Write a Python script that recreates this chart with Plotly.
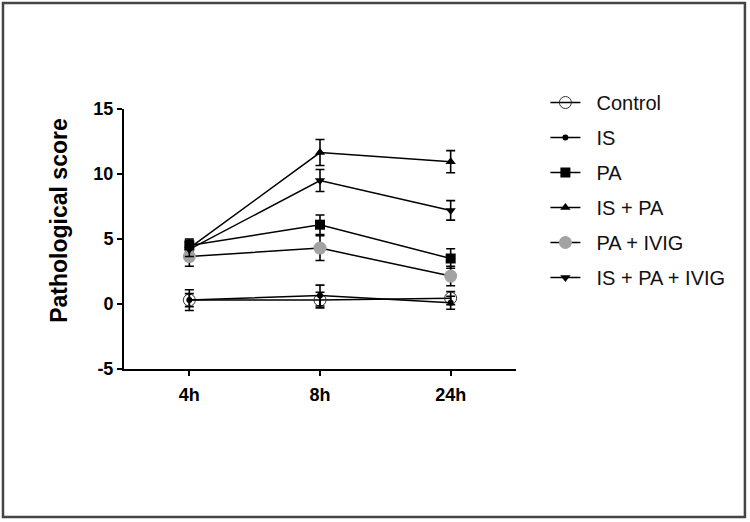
import plotly.graph_objects as go

timepoints = ["4h", "8h", "24h"]
groups = ["Control", "IS", "PA", "IS + PA", "PA + IVIG", "IS + PA + IVIG"]
control = [0.3, 0.3, 0.45]
control_err = [0.8, 0.6, 0.5]
is_vals = [0.3, 0.65, 0.1]
is_err = [0.5, 0.8, 0.5]
pa = [4.5, 6.1, 3.5]
pa_err = [0.5, 0.75, 0.75]
is_pa = [4.3, 11.65, 10.95]
is_pa_err = [0.6, 1.0, 0.85]
pa_ivig = [3.65, 4.3, 2.15]
pa_ivig_err = [0.75, 0.95, 0.75]
is_pa_ivig = [4.2, 9.5, 7.2]
is_pa_ivig_err = [0.55, 0.85, 0.75]
y_ticks = [-5, 0, 5, 10, 15]
y_tick_labels = ["-5", "0", "5", "10", "15"]

values = [control, is_vals, pa, is_pa, pa_ivig, is_pa_ivig]
errors = [control_err, is_err, pa_err, is_pa_err, pa_ivig_err, is_pa_ivig_err]
markers = [
    dict(symbol="circle-open", size=12, color="#333333", line=dict(width=1)),
    dict(symbol="circle", size=6, color="black"),
    dict(symbol="square", size=10, color="black"),
    dict(symbol="triangle-up", size=9, color="black"),
    dict(symbol="circle", size=13, color="#a3a3a3"),
    dict(symbol="triangle-down", size=9, color="black"),
]

fig = go.Figure()
for name, v, e, m in zip(groups, values, errors, markers):
    fig.add_trace(go.Scatter(
        x=timepoints, y=v, name="\u00a0\u00a0" + name, mode="lines+markers",
        line=dict(color="black", width=1.5),
        marker=m,
        error_y=dict(type="data", array=e, visible=True, color="black",
                     thickness=1.6, width=4.5),
        legendgroup=name,
    ))

tick_font = dict(size=18, family="Liberation Sans, Arial", weight="bold")
fig.update_layout(
    width=750, height=522,
    margin=dict(l=124, r=234, t=109, b=153),
    paper_bgcolor="white", plot_bgcolor="white",
    font=dict(family="Liberation Sans, Arial, sans-serif", color="black"),
    showlegend=True,
    legend=dict(x=1.075, y=1.10, xanchor="left", yanchor="top",
                font=dict(size=20, color="#111111"),
                tracegroupgap=6, bgcolor="rgba(0,0,0,0)"),
    xaxis=dict(range=[-0.5, 2.5], showline=True, linecolor="black", linewidth=2,
               ticks="outside", ticklen=5, tickwidth=2, tickcolor="black",
               showgrid=False, zeroline=False, tickfont=tick_font,
               ticklabelstandoff=3),
    yaxis=dict(range=[-5, 15], tickvals=y_ticks, ticktext=y_tick_labels,
               showline=True, linecolor="black", linewidth=2, ticks="outside",
               ticklen=5, tickwidth=2, tickcolor="black", showgrid=False,
               zeroline=False, tickfont=tick_font),
    annotations=[dict(text="<b>Pathological score</b>", textangle=-90,
                      xref="paper", yref="paper", x=-0.206, y=0.571,
                      showarrow=False, font=dict(size=23))],
    shapes=[dict(type="rect", xref="paper", yref="paper",
                 x0=-0.3087, x1=1.584, y0=-0.569, y1=1.408,
                 line=dict(color="#444444", width=2.5))],
)

fig.write_html("out.html", config={"displayModeBar": False},
               post_script="document.body.style.margin='0';")
